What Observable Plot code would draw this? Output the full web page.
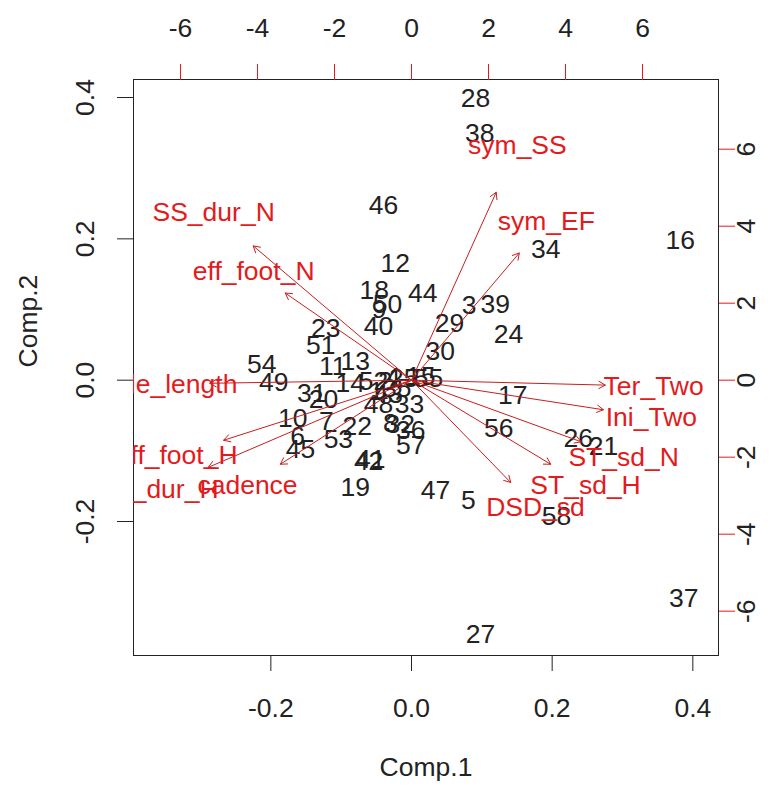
<!DOCTYPE html>
<html><head><meta charset="utf-8">
<script src="https://cdn.jsdelivr.net/npm/d3@7"></script>
<script src="https://cdn.jsdelivr.net/npm/@observablehq/plot@0.6"></script>
<style>body{margin:0;background:#fff}</style>
</head><body><div id="chart"></div>
<script>
// Observation scores (Comp.1, Comp.2)
const obsLabels = ["28","38","46","16","34","12","18","44","9","50","40","3","39","29","24","23","51","30","54","11","13","49","14","52","2","4","25","15","55","35","43","1","17","31","20","48","33","10","7","22","8","32","36","56","26","21","6","45","53","57","41","42","19","47","5","58","37","27"];
const comp1 = [0.091,0.097,-0.040,0.382,0.191,-0.023,-0.053,0.016,-0.046,-0.034,-0.047,0.082,0.119,0.054,0.138,-0.122,-0.129,0.041,-0.213,-0.112,-0.080,-0.196,-0.087,-0.054,-0.037,-0.026,-0.011,0.013,0.024,-0.021,-0.033,-0.050,0.144,-0.142,-0.125,-0.047,-0.003,-0.169,-0.121,-0.077,-0.030,-0.016,-0.001,0.124,0.237,0.273,-0.162,-0.158,-0.104,-0.001,-0.058,-0.061,-0.080,0.034,0.081,0.206,0.387,0.098];
const comp2 = [0.399,0.349,0.247,0.197,0.185,0.165,0.127,0.123,0.100,0.107,0.076,0.106,0.107,0.080,0.065,0.073,0.049,0.041,0.022,0.019,0.026,-0.003,-0.005,-0.002,-0.002,0.004,0.002,0.005,0.002,-0.012,-0.020,-0.016,-0.022,-0.019,-0.027,-0.034,-0.034,-0.054,-0.058,-0.066,-0.061,-0.063,-0.071,-0.068,-0.082,-0.094,-0.080,-0.098,-0.084,-0.092,-0.112,-0.115,-0.152,-0.156,-0.170,-0.193,-0.309,-0.360];

// Variable loadings (in units of the top / right axes)
const varNames = ["sym_SS","sym_EF","SS_dur_N","eff_foot_N","Stride_length","eff_foot_H","SS_dur_H","cadence","Ter_Two","Ini_Two","ST_sd_N","ST_sd_H","DSD_sd"];
const load1 = [2.75,3.50,-5.14,-4.10,-6.55,-6.10,-6.60,-4.26,6.29,6.23,5.51,4.52,3.22];
const load2 = [6.10,4.13,4.36,2.83,-0.10,-1.95,-2.83,-2.73,-0.16,-0.96,-2.00,-2.73,-3.32];

// Axis ticks
const bottomTicks = [-0.2, 0.0, 0.2, 0.4];
const leftTicks = [-0.2, 0.0, 0.2, 0.4];
const topTicks = [-6, -4, -2, 0, 2, 4, 6];
const rightTicks = [-6, -4, -2, 0, 2, 4, 6];

const xDomain = [-0.3953, 0.4365];
const yDomain = [-0.3896, 0.4255];
const kx = 0.05474, ky = 0.05448; // secondary-axis unit expressed in primary units
const arrowShrink = 0.8;
const RED = "#e41a1c";

const obsIdx = d3.range(obsLabels.length);
const varIdx = d3.range(varNames.length);

const chart = Plot.plot({
  width: 779,
  height: 791,
  marginLeft: 133,
  marginRight: 61,
  marginTop: 79,
  marginBottom: 136,
  x: {domain: xDomain, axis: null},
  y: {domain: yDomain, axis: null},
  style: {fontFamily: "'Liberation Sans', Arial, sans-serif", fontSize: "26.5px", background: "#fff", color: "#222"},
  marks: [
    Plot.frame({stroke: "#222"}),
    Plot.axisX(bottomTicks, {anchor: "bottom", tickSize: 16, tickPadding: 27, tickFormat: d => d.toFixed(1), label: null, stroke: "#222", fill: "#222"}),
    Plot.axisY(leftTicks, {anchor: "left", tickSize: 16, tickPadding: 24, tickRotate: -90, tickFormat: d => d.toFixed(1), label: null, stroke: "#222", fill: "#222"}),
    Plot.axisX(topTicks.map(v => v * kx), {anchor: "top", tickSize: 16, tickPadding: 27, tickFormat: d => String(Math.round(d / kx)), label: null, stroke: RED, fill: "#222"}),
    Plot.axisY(rightTicks.map(v => v * ky), {anchor: "right", tickSize: 16, tickPadding: 2, tickRotate: -90, lineAnchor: "top", tickFormat: d => String(Math.round(d / ky)), label: null, stroke: RED, fill: "#222"}),
    Plot.text(["Comp.1"], {frameAnchor: "bottom", dy: 120, text: d => d, fill: "#222"}),
    Plot.text(["Comp.2"], {frameAnchor: "left", dx: -105, rotate: -90, text: d => d, fill: "#222"}),
    Plot.text(obsIdx, {x: i => comp1[i], y: i => comp2[i], text: i => obsLabels[i], fill: "#222", clip: true}),
    Plot.arrow(varIdx, {x1: () => 0, y1: () => 0, x2: i => load1[i] * kx * arrowShrink, y2: i => load2[i] * ky * arrowShrink, stroke: "#c81e1e", strokeWidth: 1, headLength: 11, headAngle: 60}),
    Plot.text(varIdx, {x: i => load1[i] * kx, y: i => load2[i] * ky, text: i => varNames[i], fill: RED, clip: true})
  ]
});
document.getElementById("chart").appendChild(chart);
</script>
</body></html>
